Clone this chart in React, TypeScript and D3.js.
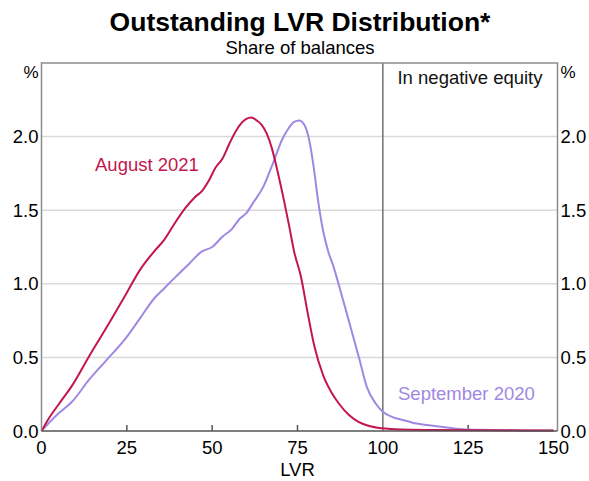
import { useEffect, useRef } from "react";
import * as d3 from "d3";

// August 2021 series (LVR, share of balances %)
const augLvr = [0, 2, 5, 9, 14, 20, 25, 29, 33, 36, 39, 42, 45, 47, 49, 51, 53, 55, 57, 58.5, 60, 61.5, 63, 64.5, 66, 67.5, 69, 71, 72.5, 74, 76, 78, 80, 82.5, 85, 87, 90, 93, 96, 100, 105, 115, 130, 150];
const augShare = [0, 0.08, 0.18, 0.31, 0.51, 0.74, 0.94, 1.1, 1.22, 1.3, 1.41, 1.51, 1.59, 1.63, 1.7, 1.79, 1.85, 1.95, 2.04, 2.09, 2.12, 2.13, 2.11, 2.08, 2.02, 1.92, 1.78, 1.57, 1.4, 1.22, 1.05, 0.8, 0.57, 0.38, 0.26, 0.19, 0.11, 0.06, 0.034, 0.018, 0.01, 0.007, 0.005, 0.003];

// September 2020 series
const sepLvr = [0, 5, 9, 14, 18.6, 25, 29, 33, 36, 39, 43, 47, 50, 53, 55.7, 58, 60, 62, 65, 68, 70.5, 72.5, 74, 75.5, 77, 78.2, 79.7, 81, 82.5, 84, 85.5, 87.5, 90.5, 93, 95.3, 97.8, 100, 103, 105, 109, 113, 120, 125, 135, 150];
const sepShare = [0, 0.12, 0.2, 0.35, 0.47, 0.64, 0.77, 0.9, 0.97, 1.04, 1.13, 1.22, 1.25, 1.32, 1.37, 1.44, 1.48, 1.55, 1.66, 1.83, 1.98, 2.06, 2.1, 2.11, 2.08, 2.0, 1.8, 1.57, 1.36, 1.22, 1.12, 0.96, 0.71, 0.5, 0.3, 0.19, 0.13, 0.093, 0.08, 0.055, 0.04, 0.02, 0.01, 0.006, 0.002];

const xTicks = [0, 25, 50, 75, 100, 125, 150];
const yTicks = [0, 0.5, 1.0, 1.5, 2.0];

const RED = "#c2164d";
const PURPLE = "#a088e2";

export default function App() {
  const svgRef = useRef<SVGSVGElement>(null);

  useEffect(() => {
    const width = 589;
    const height = 481;
    const m = { left: 41.5, right: 553.5, frameRight: 557.5, top: 63, bottom: 431 };
    const font = "'Liberation Sans', Arial, sans-serif";
    const fs = "18.5px";

    const svg = d3.select(svgRef.current).attr("width", width).attr("height", height);
    svg.selectAll("*").remove();

    const x = d3.scaleLinear().domain([0, 150]).range([m.left, m.right]);
    const y = d3.scaleLinear().domain([0, 2.5]).range([m.bottom, m.top]);

    // titles
    svg.append("text").attr("x", 300).attr("y", 31).attr("text-anchor", "middle")
      .style("font-family", font).style("font-size", "26.5px").style("font-weight", "bold")
      .text("Outstanding LVR Distribution*");
    svg.append("text").attr("x", 300).attr("y", 54).attr("text-anchor", "middle")
      .style("font-family", font).style("font-size", fs)
      .text("Share of balances");

    // gridlines
    svg.append("g").selectAll("line").data(yTicks.filter((d) => d > 0)).join("line")
      .attr("x1", m.left).attr("x2", m.frameRight)
      .attr("y1", (d) => y(d)).attr("y2", (d) => y(d))
      .attr("stroke", "#d9d9d9").attr("stroke-width", 1.5);

    // y labels both sides
    const yl = svg.append("g").style("font-family", font).style("font-size", fs);
    yl.selectAll(".l").data(yTicks).join("text").attr("class", "l")
      .attr("x", m.left - 3).attr("y", (d) => y(d)).attr("dy", "0.36em")
      .attr("text-anchor", "end").text((d) => d3.format(".1f")(d));
    yl.selectAll(".r").data(yTicks).join("text").attr("class", "r")
      .attr("x", m.frameRight + 3).attr("y", (d) => y(d)).attr("dy", "0.36em")
      .attr("text-anchor", "start").text((d) => d3.format(".1f")(d));
    yl.append("text").attr("x", m.left - 3).attr("y", 78).attr("text-anchor", "end")
      .style("font-size", "17px").text("%");
    yl.append("text").attr("x", m.frameRight + 3).attr("y", 78).attr("text-anchor", "start")
      .style("font-size", "17px").text("%");

    // x ticks and labels
    svg.append("g").selectAll("line").data(xTicks.filter((d) => d > 0 && d < 150 && d !== 100)).join("line")
      .attr("x1", (d) => x(d)).attr("x2", (d) => x(d))
      .attr("y1", m.bottom).attr("y2", m.bottom - 6)
      .attr("stroke", "#555").attr("stroke-width", 1.5);
    svg.append("g").style("font-family", font).style("font-size", fs)
      .selectAll("text").data(xTicks).join("text")
      .attr("x", (d) => x(d)).attr("y", 454).attr("text-anchor", "middle")
      .text((d) => d);
    svg.append("text").attr("x", x(75)).attr("y", 476).attr("text-anchor", "middle")
      .style("font-family", font).style("font-size", fs).text("LVR");

    // negative equity divider
    svg.append("line").attr("x1", x(100)).attr("x2", x(100)).attr("y1", m.top).attr("y2", m.bottom)
      .attr("stroke", "#707070").attr("stroke-width", 1.5);
    svg.append("text").attr("x", 470).attr("y", 84).attr("text-anchor", "middle")
      .style("font-family", font).style("font-size", fs).attr("fill", "#111")
      .text("In negative equity");

    // lines
    const line = d3.line<[number, number]>().x((d) => x(d[0])).y((d) => y(d[1])).curve(d3.curveMonotoneX);
    const sep = sepLvr.map((v, i) => [v, sepShare[i]] as [number, number]);
    const aug = augLvr.map((v, i) => [v, augShare[i]] as [number, number]);
    svg.append("path").attr("d", line(sep)).attr("fill", "none").attr("stroke", PURPLE).attr("stroke-width", 2);
    svg.append("path").attr("d", line(aug)).attr("fill", "none").attr("stroke", RED).attr("stroke-width", 2);

    // frame
    svg.append("path")
      .attr("d", `M${m.left},${m.bottom}V${m.top}H${m.frameRight}V${m.bottom}`)
      .attr("fill", "none").attr("stroke", "#8c8c8c").attr("stroke-width", 1.5);
    svg.append("line").attr("x1", m.left).attr("x2", m.frameRight).attr("y1", m.bottom).attr("y2", m.bottom)
      .attr("stroke", "#555").attr("stroke-width", 1.5);

    // series labels
    svg.append("text").attr("x", 95).attr("y", 171).attr("fill", RED)
      .style("font-family", font).style("font-size", fs).text("August 2021");
    svg.append("text").attr("x", 398).attr("y", 400).attr("fill", PURPLE)
      .style("font-family", font).style("font-size", fs).text("September 2020");
  }, []);

  return (
    <div style={{ position: "absolute", left: 0, top: 0 }}>
      <svg ref={svgRef}></svg>
    </div>
  );
}
